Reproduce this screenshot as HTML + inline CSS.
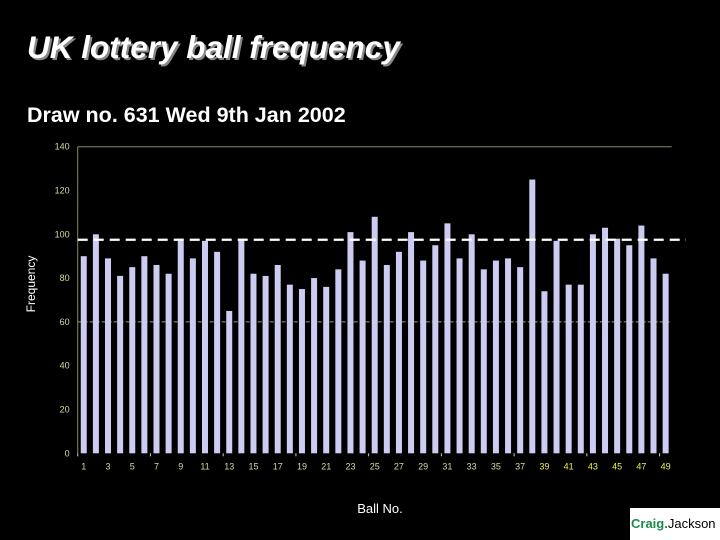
<!DOCTYPE html>
<html><head><meta charset="utf-8"><style>
body{margin:0;background:#000;}
#wrap{position:relative;width:720px;height:540px;background:#000;overflow:hidden;font-family:"Liberation Sans",sans-serif;}
</style></head><body>
<div id="wrap">
<svg width="720" height="540" style="position:absolute;left:0;top:0">
<text x="29" y="60" font-size="31.5" font-style="italic" font-weight="bold" fill="#888">UK lottery ball frequency</text>
<text x="27" y="58" font-size="31.5" font-style="italic" font-weight="bold" fill="#fff">UK lottery ball frequency</text>
<text x="27" y="122" font-size="21.5" font-weight="bold" fill="#fff">Draw no. 631 Wed 9th Jan 2002</text>
<text transform="translate(35,284) rotate(-90)" text-anchor="middle" font-size="12" fill="#fff">Frequency</text>
<text x="380" y="513" text-anchor="middle" font-size="13" fill="#fff">Ball No.</text>
<g id="plot"></g>
</svg>
<div style="position:absolute;left:630px;top:508px;width:90px;height:32px;background:#fff;font-size:13px;line-height:32px;padding-left:1px;box-sizing:border-box;white-space:nowrap;overflow:hidden"><b style="color:#1e8a4a">Craig.</b><span style="color:#000">Jackson</span></div>
</div>
<script>
const balls=[];for(let i=1;i<=49;i++)balls.push(i);
const freq=[90,100,89,81,85,90,86,82,98,89,97,92,65,98,82,81,86,77,75,80,76,84,101,88,108,86,92,101,88,95,105,89,100,84,88,89,85,125,74,97,77,77,100,103,98,95,104,89,82];
const meanLine=[97.5];
const yTicks=[0,20,40,60,80,100,120,140];
const NS="http://www.w3.org/2000/svg";
const L=77.7,R=671.7,T=146.7,B=453.3,yMax=140;
const yS=v=>B-(v/yMax)*(B-T);
const bw=(R-L)/balls.length;
const xS=i=>L+bw*(i+0.5);
const g=document.getElementById('plot');
function mk(t,a){const e=document.createElementNS(NS,t);for(const k in a)e.setAttribute(k,a[k]);g.appendChild(e);return e;}
let e;
e=mk('line',{x1:L,y1:T,x2:R,y2:T,stroke:'#8a8a5a','stroke-width':1});


e=mk('line',{x1:L,y1:yS(60),x2:R,y2:yS(60),stroke:'#9a9a6a','stroke-width':1,'stroke-dasharray':'4,2'});


e=mk('line',{x1:L,y1:T,x2:L,y2:B,stroke:'#8a8a5a','stroke-width':1});


yTicks.forEach(v=>{
 const t=mk('text',{x:L-8,y:yS(v)+3,'text-anchor':'end','font-size':9,fill:'#d8d8a0'});t.textContent=v;
 
 
});
balls.forEach((b,i)=>{
 const r=mk('rect',{x:xS(i)-3,y:yS(freq[i]),width:6,height:B-yS(freq[i]),fill:'#ccccf2'});
 
 
 if(b%2===1){
  const t=mk('text',{x:xS(i),y:B+16,'text-anchor':'middle','font-size':9,fill:b>=39?'#f0f050':'#d8d8a0'});t.textContent=b;
  
  
 }
 if(i%6===0){
  const k=mk('line',{x1:L+bw*i,y1:B,x2:L+bw*i,y2:B+3,stroke:'#ccc','stroke-width':1});
  
  
 }
});
e=mk('line',{x1:L,y1:yS(meanLine[0]),x2:686,y2:yS(meanLine[0]),stroke:'#fff','stroke-width':2.2,'stroke-dasharray':'10,6'});


</script>
</body></html>
